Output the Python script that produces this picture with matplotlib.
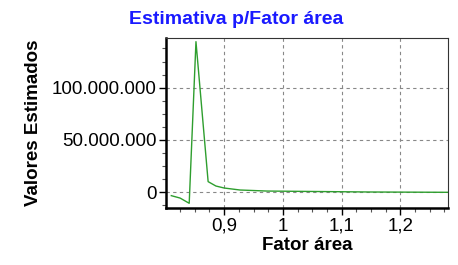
import matplotlib
matplotlib.use("Agg")
import matplotlib.pyplot as plt
from matplotlib.ticker import MultipleLocator, FuncFormatter

plt.rcParams['font.family'] = ['Liberation Sans', 'DejaVu Sans']

# valores
fator = [0.810, 0.825, 0.8405, 0.852, 0.8727, 0.886, 0.900, 0.927, 0.973, 1.148, 1.280]
valores = [-3.2e6, -5.5e6, -10.5e6, 144e6, 10.2e6, 6.0e6, 4.1e6, 2.2e6, 1.2e6, 0.3e6, 0.0]

def fmt_br(v, pos):
    s = "{:,.0f}".format(v).replace(",", ".")
    return s

fig = plt.figure(figsize=(4.58, 2.65), dpi=100)
ax = fig.add_axes([166/458, 1 - 208/265, (448-166)/458, (208-38)/265])

ax.plot(fator, valores, color='#2e9e2e', lw=1)

ax.set_xlim(0.801, 1.281)
ax.set_ylim(-15e6, 147.5e6)
ax.xaxis.set_major_locator(MultipleLocator(0.1))
ax.xaxis.set_minor_locator(MultipleLocator(0.025))
ax.yaxis.set_major_locator(MultipleLocator(50e6))
ax.yaxis.set_minor_locator(MultipleLocator(12.5e6))
ax.xaxis.set_major_formatter(FuncFormatter(lambda v, p: ("%g" % round(v, 2)).replace(".", ",")))
ax.yaxis.set_major_formatter(FuncFormatter(fmt_br))
ax.tick_params(which='major', length=5, width=1, labelsize=13.5, direction='out', pad=2)
ax.tick_params(which='minor', length=3, width=0.8, direction='out', color='#555555')
ax.grid(True, which='major', ls=(0, (3, 3)), color='#888888', lw=0.8)

for s in ['left', 'bottom']:
    ax.spines[s].set_linewidth(1.8)
for s in ['top', 'right']:
    ax.spines[s].set_linewidth(0.8)
    ax.spines[s].set_color('#333333')

ax.set_xlabel('Fator área', fontsize=13.5, fontweight='bold', labelpad=2)
ax.set_ylabel('Valores Estimados', fontsize=13.5, fontweight='bold')
ax.yaxis.set_label_coords(-0.44, 0.5)
fig.text(0.515, 0.928, 'Estimativa p/Fator área', ha='center', va='center',
         color='#1a1aff', fontsize=14, fontweight='bold')

fig.savefig('out.png', dpi=100)
